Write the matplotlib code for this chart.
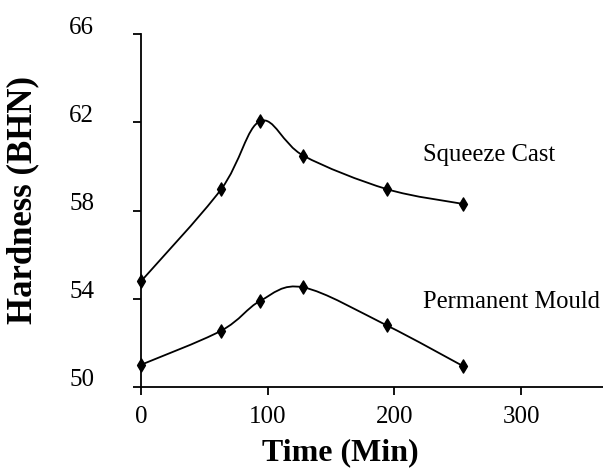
import matplotlib
matplotlib.use("Agg")
import matplotlib.pyplot as plt
from matplotlib.path import Path
from matplotlib.patches import PathPatch
from matplotlib.transforms import ScaledTranslation
import numpy as np

# ---- data ----
time_min = [0, 63, 94, 128, 194, 254]
squeeze_cast = [54.8, 58.96, 62.06, 60.49, 58.97, 58.30]
permanent_mould = [51.0, 52.54, 53.9, 54.51, 52.78, 50.94]
x_ticks = [0, 100, 200, 300]
y_ticks = [50, 54, 58, 62, 66]
series_labels = ["Squeeze Cast", "Permanent Mould"]

plt.rcParams['font.family'] = ['Liberation Serif', 'DejaVu Serif']

fig = plt.figure(figsize=(6.03, 4.71), dpi=100)
ax = fig.add_axes([141.3 / 603, (471 - 386.7) / 471, 1 - 141.3 / 603, (386.7 - 34.3) / 471])


def smooth_path(xs, ys):
    """Excel-like smoothed line (Catmull-Rom as cubic Bezier) through the points."""
    xs = np.asarray(xs, float)
    ys = np.asarray(ys, float)
    n = len(xs)
    verts = [(xs[0], ys[0])]
    codes = [Path.MOVETO]
    for i in range(n - 1):
        p0 = np.array([xs[max(i - 1, 0)], ys[max(i - 1, 0)]])
        p1 = np.array([xs[i], ys[i]])
        p2 = np.array([xs[i + 1], ys[i + 1]])
        p3 = np.array([xs[min(i + 2, n - 1)], ys[min(i + 2, n - 1)]])
        c1 = p1 + (p2 - p0) / 6.0
        c2 = p2 - (p3 - p1) / 6.0
        verts += [tuple(c1), tuple(c2), tuple(p2)]
        codes += [Path.CURVE4] * 3
    return Path(verts, codes)


diamond = Path([(0, 1), (0.6, 0), (0, -1), (-0.6, 0), (0, 1)],
               [Path.MOVETO, Path.LINETO, Path.LINETO, Path.LINETO, Path.CLOSEPOLY])

for ys in (squeeze_cast, permanent_mould):
    ax.add_patch(PathPatch(smooth_path(time_min, ys), fill=False, lw=1.3,
                           edgecolor='black', zorder=2))
    ax.plot(time_min, ys, linestyle='none', marker=diamond, markersize=9.5,
            color='black', zorder=3, clip_on=False)

ax.set_xlim(0, 364.7)
ax.set_ylim(50, 66)
ax.set_xticks(x_ticks)
ax.set_yticks(y_ticks)
ax.set_xticklabels([str(v) for v in x_ticks], fontsize=18)
ax.set_yticklabels([str(v) for v in y_ticks], fontsize=18)

for s in ('top', 'right'):
    ax.spines[s].set_visible(False)
for s in ('left', 'bottom'):
    ax.spines[s].set_linewidth(1.3)

ax.tick_params(axis='both', direction='out', length=6, width=1.3, color='black')
ax.tick_params(axis='y', pad=28)
ax.tick_params(axis='x', pad=8)

# y tick labels sit a little above their ticks in the reference
off = ScaledTranslation(0, 9 / 100, fig.dpi_scale_trans)
for lab in ax.get_yticklabels():
    lab.set_transform(lab.get_transform() + off)

ax.set_xlabel("Time (Min)", fontsize=23, fontweight='bold')
ax.xaxis.set_label_coords(340 / 603, 1 - 453 / 471, transform=fig.transFigure)
ax.xaxis.label.set_va('center')

ax.set_ylabel("Hardness (BHN)", fontsize=25, fontweight='bold')
ax.yaxis.set_label_coords(23 / 603, 1 - 200 / 471, transform=fig.transFigure)
ax.yaxis.label.set_va('center')

fig.text(423 / 603, 1 - 155 / 471, series_labels[0], fontsize=17.7, ha='left', va='center')
fig.text(423 / 603, 1 - 302 / 471, series_labels[1], fontsize=17.7, ha='left', va='center')

fig.savefig("out.png", dpi=100)
